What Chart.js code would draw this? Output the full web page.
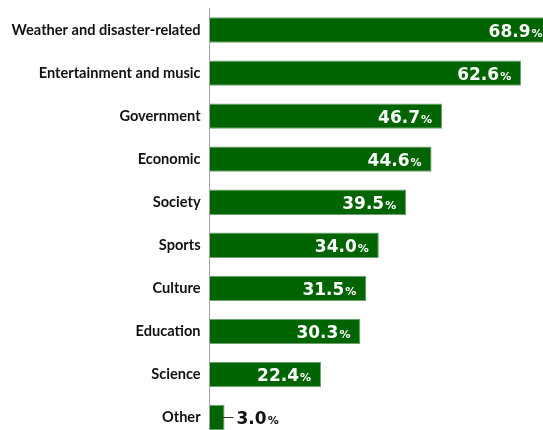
<!DOCTYPE html>
<html>
<head>
<meta charset="utf-8">
<script src="https://cdn.jsdelivr.net/npm/chart.js@4/dist/chart.umd.min.js"></script>
<style>
  html, body { margin: 0; padding: 0; background: #fff; overflow: hidden; }
  #wrap { width: 543px; height: 430px; overflow: hidden; }
</style>
</head>
<body>
<div id="wrap"><canvas id="newsChart" width="558" height="439"></canvas></div>
<script>
// --- DATA ---
const categories = ['Weather and disaster-related', 'Entertainment and music', 'Government', 'Economic',
    'Society', 'Sports', 'Culture', 'Education', 'Science', 'Other'];
const shares = [68.9, 62.6, 46.7, 44.6, 39.5, 34.0, 31.5, 30.3, 22.4, 3.0];

const THEME = {
    bar: '#006400',
    barEdge: '#6f9f6f',
    axis: '#a6a6a6',
    label: '#111111',
    inside: '#ffffff',
};

// value labels: big number + small percent sign, inside the bar or outside with a leader line
const valueLabels = {
    id: 'valueLabels',
    afterDatasetsDraw(chart) {
        const ctx = chart.ctx;
        const meta = chart.getDatasetMeta(0);
        ctx.save();
        meta.data.forEach((bar, i) => {
            const num = shares[i].toFixed(1);
            ctx.font = 'bold 11px "DejaVu Sans"';
            const pctW = ctx.measureText('%').width;
            ctx.font = 'bold 17px "DejaVu Sans"';
            const numW = ctx.measureText(num).width;
            const barLen = bar.x - bar.base;
            const y = bar.y + 6.5;
            ctx.textBaseline = 'alphabetic';
            if (barLen > numW + pctW + 20) {
                const right = bar.x - 10;
                ctx.fillStyle = THEME.inside;
                ctx.textAlign = 'right';
                ctx.font = 'bold 11px "DejaVu Sans"';
                ctx.fillText('%', right, y);
                ctx.font = 'bold 17px "DejaVu Sans"';
                ctx.fillText(num, right - pctW - 1, y);
            } else {
                ctx.strokeStyle = '#333';
                ctx.lineWidth = 1;
                ctx.beginPath();
                ctx.moveTo(bar.x - 2, Math.round(bar.y) + 0.5);
                ctx.lineTo(bar.x + 9, Math.round(bar.y) + 0.5);
                ctx.stroke();
                const left = bar.x + 12;
                ctx.fillStyle = THEME.label;
                ctx.textAlign = 'left';
                ctx.font = 'bold 17px "DejaVu Sans"';
                ctx.fillText(num, left, y);
                ctx.font = 'bold 11px "DejaVu Sans"';
                ctx.fillText('%', left + numW + 1, y);
            }
        });
        ctx.restore();
    }
};

const chart = new Chart(document.getElementById('newsChart').getContext('2d'), {
    type: 'bar',
    data: {
        labels: categories,
        datasets: [{
            data: shares,
            backgroundColor: THEME.bar,
            borderColor: THEME.barEdge,
            borderWidth: 1,
            borderSkipped: 'start',
            categoryPercentage: 1,
            barPercentage: 0.59
        }]
    },
    options: {
        indexAxis: 'y',
        responsive: false,
        animation: false,
        layout: { padding: { top: 8.5, left: 0, right: 0, bottom: 0 } },
        scales: {
            x: {
                display: false,
                min: 0,
                max: 70
            },
            y: {
                afterFit(scale) {
                    scale.width = 209.6;
                    scale.paddingTop = 0;
                    scale.paddingBottom = 0;
                },
                grid: { display: false, drawTicks: false },
                border: { display: true, color: THEME.axis, width: 1 },
                ticks: {
                    color: THEME.label,
                    padding: 9,
                    font: { family: 'Lato', weight: 'bold', size: 14.6 }
                }
            }
        },
        plugins: {
            legend: { display: false },
            tooltip: { enabled: false }
        }
    },
    plugins: [valueLabels]
});
</script>
</body>
</html>
